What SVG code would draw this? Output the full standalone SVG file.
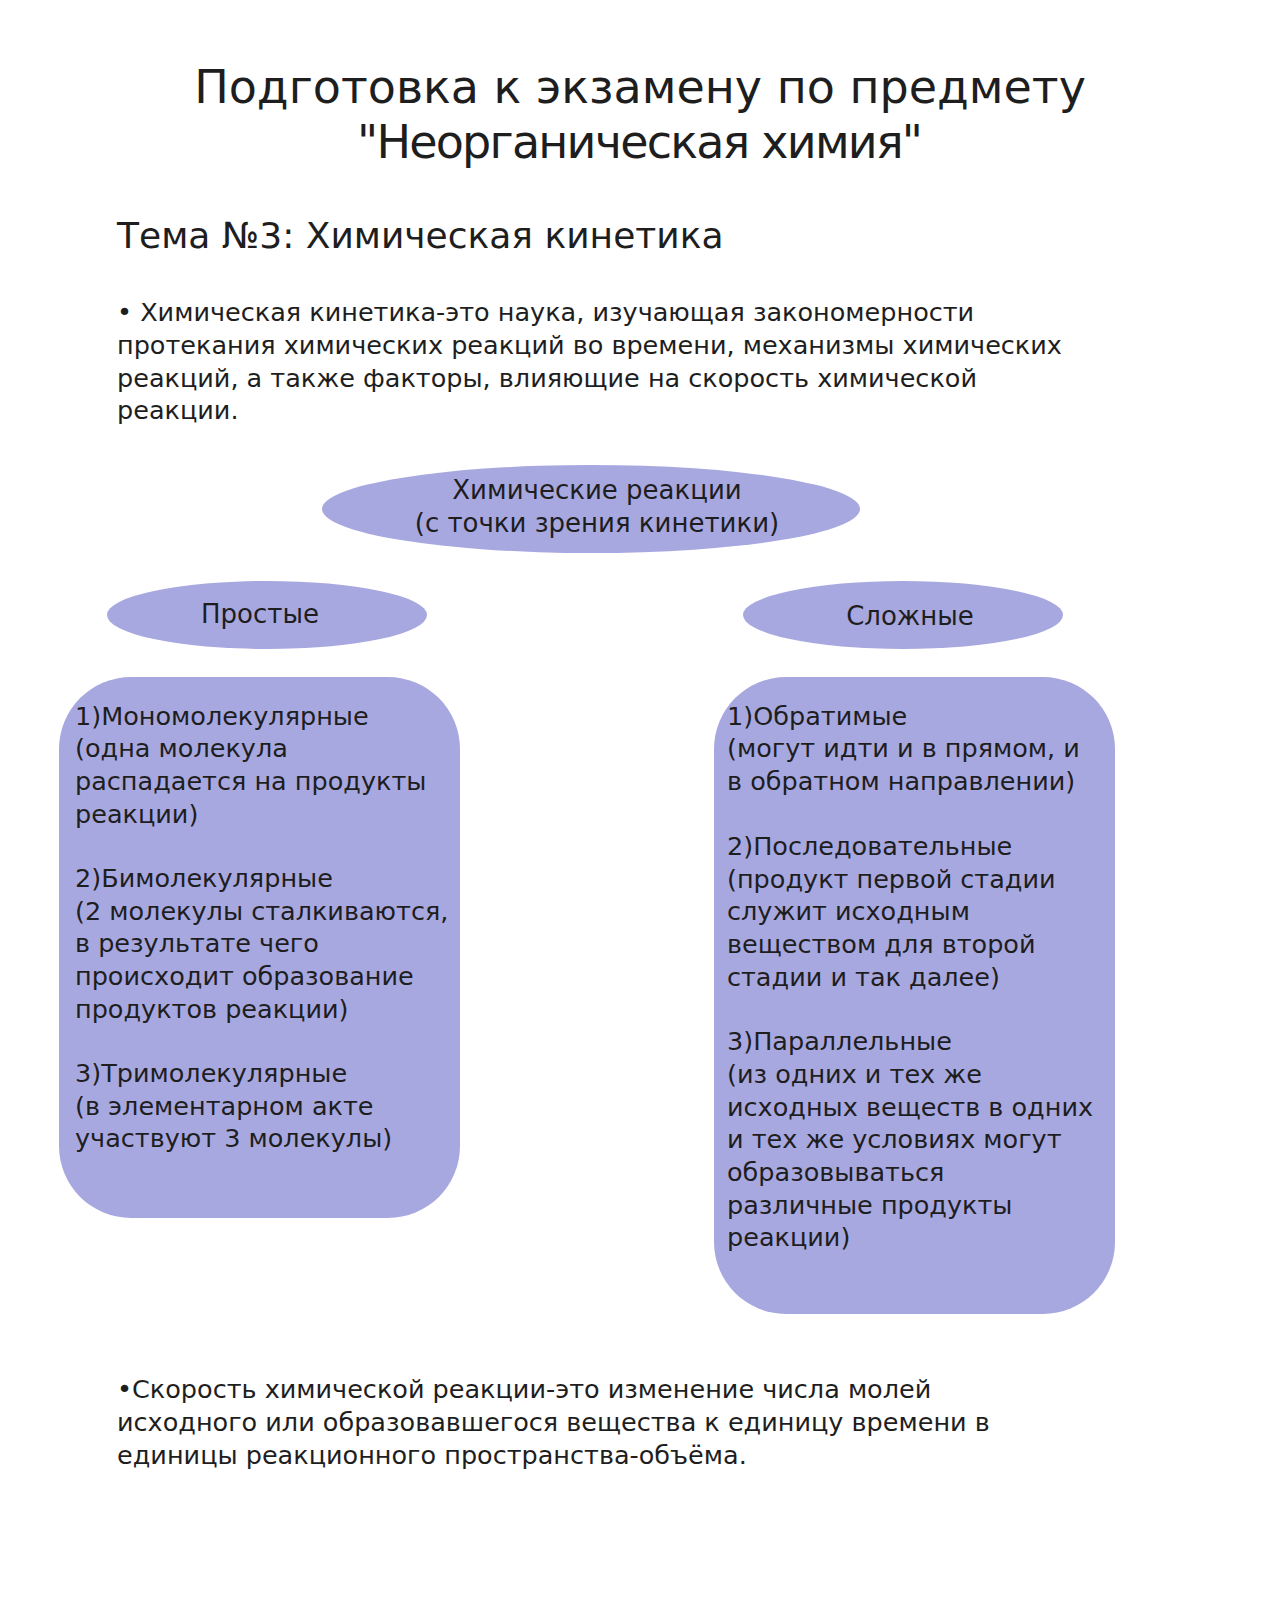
<svg xmlns="http://www.w3.org/2000/svg" width="1280" height="1600" viewBox="0 0 1280 1600">
<style>
text { font-family: "DejaVu Sans", "Noto Sans", sans-serif; fill: #1e1e1e; }
.title { font-size: 46px; text-anchor: middle; }
.sub { font-size: 36px; }
.body { font-size: 25.5px; }
.lbl { font-size: 26px; text-anchor: middle; }
.shape { fill: #a8a8e0; }
</style>
<rect width="1280" height="1600" fill="#ffffff"/>
<g id="title">
<text class="title" x="640" y="103">Подготовка к экзамену по предмету</text>
<text class="title" x="640" y="158" textLength="566" lengthAdjust="spacing">"Неорганическая химия"</text>
</g>
<g id="topic">
<text class="sub" x="117" y="248">Тема №3: Химическая кинетика</text>
</g>
<g id="definition">
<text class="body" x="117" y="321">• Химическая кинетика-это наука, изучающая закономерности</text>
<text class="body" x="117" y="354">протекания химических реакций во времени, механизмы химических</text>
<text class="body" x="117" y="387">реакций, а также факторы, влияющие на скорость химической</text>
<text class="body" x="117" y="419">реакции.</text>
</g>
<g id="node-root">
<ellipse class="shape" cx="591" cy="509" rx="269" ry="44"/>
<text class="lbl" x="597" y="499">Химические реакции</text>
<text class="lbl" x="597" y="532">(с точки зрения кинетики)</text>
</g>
<g id="node-simple">
<ellipse class="shape" cx="267" cy="615" rx="160" ry="34"/>
<text class="lbl" x="260" y="623">Простые</text>
</g>
<g id="node-complex">
<ellipse class="shape" cx="903" cy="615" rx="160" ry="34"/>
<text class="lbl" x="910" y="625">Сложные</text>
</g>
<g id="node-simple-list">
<rect class="shape" x="59" y="677" width="401" height="541" rx="72" ry="72"/>
<text class="body" x="75" y="725">1)Мономолекулярные</text>
<text class="body" x="75" y="757">(одна молекула</text>
<text class="body" x="75" y="790">распадается на продукты</text>
<text class="body" x="75" y="823">реакции)</text>
<text class="body" x="75" y="887">2)Бимолекулярные</text>
<text class="body" x="75" y="920">(2 молекулы сталкиваются,</text>
<text class="body" x="75" y="952">в результате чего</text>
<text class="body" x="75" y="985">происходит образование</text>
<text class="body" x="75" y="1018">продуктов реакции)</text>
<text class="body" x="75" y="1082">3)Тримолекулярные</text>
<text class="body" x="75" y="1115">(в элементарном акте</text>
<text class="body" x="75" y="1147">участвуют 3 молекулы)</text>
</g>
<g id="node-complex-list">
<rect class="shape" x="714" y="677" width="401" height="637" rx="72" ry="72"/>
<text class="body" x="727" y="725">1)Обратимые</text>
<text class="body" x="727" y="757">(могут идти и в прямом, и</text>
<text class="body" x="727" y="790">в обратном направлении)</text>
<text class="body" x="727" y="855">2)Последовательные</text>
<text class="body" x="727" y="888">(продукт первой стадии</text>
<text class="body" x="727" y="920">служит исходным</text>
<text class="body" x="727" y="953">веществом для второй</text>
<text class="body" x="727" y="986">стадии и так далее)</text>
<text class="body" x="727" y="1050">3)Параллельные</text>
<text class="body" x="727" y="1083">(из одних и тех же</text>
<text class="body" x="727" y="1116">исходных веществ в одних</text>
<text class="body" x="727" y="1148">и тех же условиях могут</text>
<text class="body" x="727" y="1181">образовываться</text>
<text class="body" x="727" y="1214">различные продукты</text>
<text class="body" x="727" y="1246">реакции)</text>
</g>
<g id="rate-definition">
<text class="body" x="117" y="1398">•Скорость химической реакции-это изменение числа молей</text>
<text class="body" x="117" y="1431">исходного или образовавшегося вещества к единицу времени в</text>
<text class="body" x="117" y="1464">единицы реакционного пространства-объёма.</text>
</g>
<g id="connectors"/>
</svg>
